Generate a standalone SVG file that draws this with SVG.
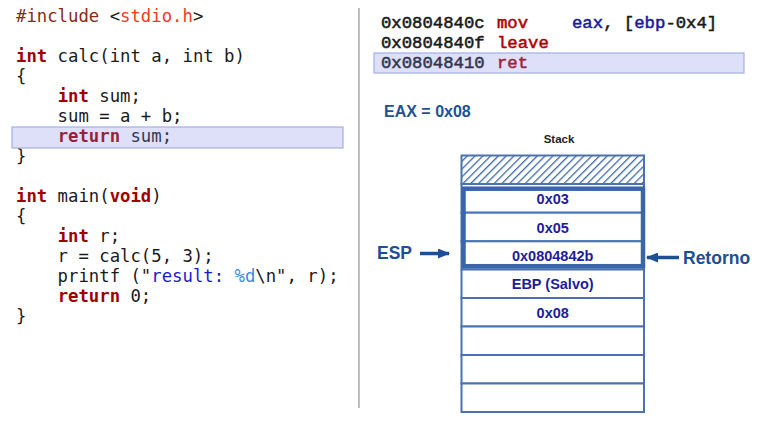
<svg xmlns="http://www.w3.org/2000/svg" width="760" height="427" viewBox="0 0 760 427">
<style>
.code{font-family:"DejaVu Sans Mono",monospace;font-size:17.3px;fill:#1a1a1a;white-space:pre}
.kw{font-weight:bold;fill:#a00000}
.pp{fill:#8a2a12}
.inc{fill:#f03c1c}
.str{fill:#1a1ad0}
.fmt{fill:#3a8ae8}
.asm{font-family:"Liberation Mono",monospace;font-size:17.3px;fill:#1a1a1a;stroke:#1a1a1a;stroke-width:0.55;white-space:pre}
.op{fill:#b00000;stroke:#b00000}
.reg{fill:#1a1aa0;stroke:#1a1aa0}
.hl{fill:#7783e3;fill-opacity:0.25;stroke:#a2b0e4;stroke-width:1.2}
.cell{fill:#ffffff;stroke:#4a72b2;stroke-width:2}
.cv{font-family:"Liberation Sans",Arial,sans-serif;font-size:14.5px;font-weight:bold;fill:#1c1c9c;text-anchor:middle}
.lbl{font-family:"Liberation Sans",Arial,sans-serif;font-size:17.5px;font-weight:bold;fill:#1c4f95}
.arr{stroke:#1c4f95;stroke-width:3.5;fill:none}
</style>
<defs>
<pattern id="hatch" patternUnits="userSpaceOnUse" width="5.5" height="5.5" patternTransform="rotate(45)">
<rect width="5.5" height="5.5" fill="#ffffff"/>
<line x1="0" y1="0" x2="0" y2="5.5" stroke="#3e6aa8" stroke-width="2.6"/>
</pattern>
<marker id="ah" markerUnits="userSpaceOnUse" markerWidth="12" markerHeight="10" refX="11" refY="5" orient="auto">
<path d="M0,0 L12,5 L0,10 z" fill="#1c4f95"/>
</marker>
</defs>
<rect width="760" height="427" fill="#ffffff"/>
<line x1="359" y1="8" x2="359" y2="408" stroke="#a8a8a8" stroke-width="1.5"/>

<g id="source-code">
<text class="code" x="16" y="22"><tspan class="pp">#include </tspan>&lt;<tspan class="inc">stdio.h</tspan>&gt;</text>
<text class="code" x="16" y="62"><tspan class="kw">int</tspan> calc(int a, int b)</text>
<text class="code" x="16" y="82">{</text>
<text class="code" x="16" y="102">    <tspan class="kw">int</tspan> sum;</text>
<text class="code" x="16" y="122">    sum = a + b;</text>
<text class="code" x="16" y="142">    <tspan class="kw">return</tspan> sum;</text>
<text class="code" x="16" y="162">}</text>
<text class="code" x="16" y="202"><tspan class="kw">int</tspan> main(<tspan class="kw">void</tspan>)</text>
<text class="code" x="16" y="222">{</text>
<text class="code" x="16" y="242">    <tspan class="kw">int</tspan> r;</text>
<text class="code" x="16" y="262">    r = calc(5, 3);</text>
<text class="code" x="16" y="282">    printf ("<tspan class="str">result: </tspan><tspan class="fmt">%d</tspan>\n", r);</text>
<text class="code" x="16" y="302">    <tspan class="kw">return</tspan> 0;</text>
<text class="code" x="16" y="322">}</text>
<rect class="hl" x="12" y="127" width="331" height="21"/>
</g>

<g id="assembly">
<text class="asm" x="381" y="28">0x0804840c<tspan class="op" x="497">mov</tspan><tspan class="reg" x="572">eax</tspan>, [<tspan class="reg">ebp</tspan>-0x4]</text>
<text class="asm" x="381" y="48">0x0804840f<tspan class="op" x="497">leave</tspan></text>
<text class="asm" x="381" y="68">0x08048410<tspan class="op" x="497">ret</tspan></text>
<rect class="hl" x="374" y="53" width="370" height="20"/>
</g>

<g id="eax">
<text x="384" y="117" font-family="Liberation Sans, Arial, sans-serif" font-size="16" font-weight="bold" fill="#1f5196">EAX = 0x08</text>
</g>

<g id="stack">
<text x="559" y="143" font-family="Liberation Sans, Arial, sans-serif" font-size="11.5" font-weight="bold" fill="#222222" text-anchor="middle">Stack</text>
<rect x="461.5" y="155.5" width="182.5" height="28.5" fill="url(#hatch)" stroke="#4a72b2" stroke-width="2"/>
<g id="cell-0x03"><rect class="cell" x="461.5" y="184" width="182.5" height="28.7"/><text class="cv" x="552.7" y="204">0x03</text></g>
<g id="cell-0x05"><rect class="cell" x="461.5" y="212.7" width="182.5" height="28.6"/><text class="cv" x="552.7" y="232.5">0x05</text></g>
<g id="cell-ret"><rect class="cell" x="461.5" y="241.3" width="182.5" height="28.2"/><text class="cv" x="552.7" y="261">0x0804842b</text></g>
<g id="cell-ebp"><rect class="cell" x="461.5" y="269.5" width="182.5" height="28.5"/><text class="cv" x="552.7" y="289">EBP (Salvo)</text></g>
<g id="cell-0x08"><rect class="cell" x="461.5" y="298" width="182.5" height="28.5"/><text class="cv" x="552.7" y="318">0x08</text></g>
<g id="cell-e1"><rect class="cell" x="461.5" y="326.5" width="182.5" height="28.5"/></g>
<g id="cell-e2"><rect class="cell" x="461.5" y="355" width="182.5" height="28.5"/></g>
<g id="cell-e3"><rect class="cell" x="461.5" y="383.5" width="182.5" height="28.5"/></g>
<rect id="frame" x="463.5" y="188.7" width="179.5" height="77.5" fill="none" stroke="#3a65a8" stroke-width="4.5"/>
</g>

<g id="esp-label"><text class="lbl" x="377" y="259">ESP</text></g>
<g id="retorno-label"><text class="lbl" x="683" y="264">Retorno</text></g>

<g id="connectors">
<line class="arr" x1="420" y1="253.5" x2="449" y2="253.5" marker-end="url(#ah)"/>
<line class="arr" x1="679" y1="257.5" x2="647" y2="257.5" marker-end="url(#ah)"/>
</g>
</svg>
